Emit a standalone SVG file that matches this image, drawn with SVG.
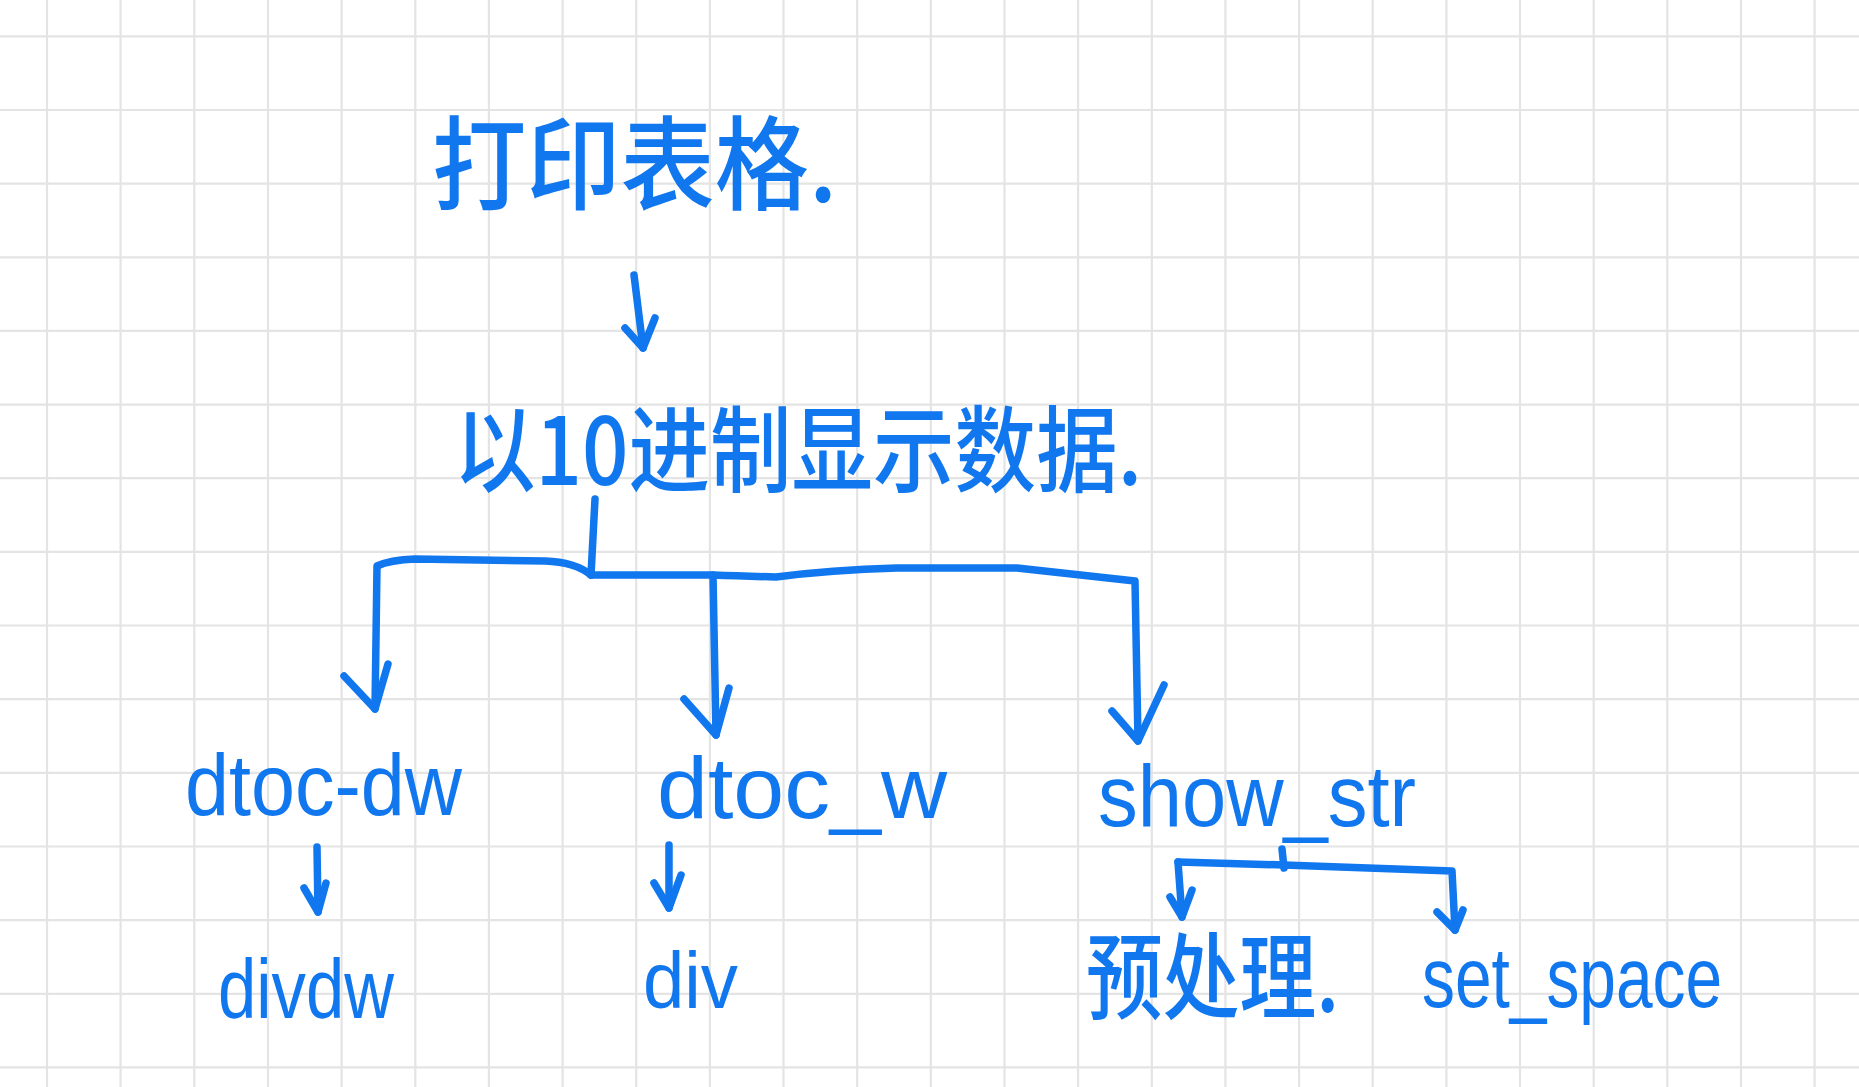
<svg xmlns="http://www.w3.org/2000/svg" width="1859" height="1087" viewBox="0 0 1859 1087">
  <style>
    .grid { stroke: #e4e4e4; stroke-width: 2.2; fill: none; }
    .ink { stroke: #1177ee; stroke-width: 7.5; fill: none; stroke-linecap: round; stroke-linejoin: round; }
    .cjk { font-family: "Noto Sans CJK SC", "Noto Sans", sans-serif; fill: #1177ee; font-weight: 500; }
    .lat { font-family: "Liberation Sans", "Noto Sans", sans-serif; fill: #1177ee; }
  </style>
  <rect width="1859" height="1087" fill="#ffffff"/>
  <g id="grid">
    <path class="grid" d="M47 0V1087M120.6 0V1087M194.3 0V1087M268 0V1087M341.6 0V1087M415.3 0V1087M488.9 0V1087M562.6 0V1087M636.2 0V1087M709.9 0V1087M783.5 0V1087M857.2 0V1087M930.8 0V1087M1004.5 0V1087M1078.1 0V1087M1151.8 0V1087M1225.4 0V1087M1299.1 0V1087M1372.7 0V1087M1446.4 0V1087M1520 0V1087M1593.7 0V1087M1667.3 0V1087M1741 0V1087M1814.6 0V1087"/>
    <path class="grid" d="M0 36.3H1859M0 110H1859M0 183.6H1859M0 257.3H1859M0 330.9H1859M0 404.6H1859M0 478.2H1859M0 551.9H1859M0 625.5H1859M0 699.2H1859M0 772.8H1859M0 846.5H1859M0 920.1H1859M0 993.8H1859M0 1067.4H1859"/>
  </g>
  <g id="node-print-table">
    <text class="cjk" x="432" y="202" font-size="102" textLength="405" lengthAdjust="spacingAndGlyphs">打印表格.</text>
  </g>
  <g id="node-show-decimal">
    <text class="cjk" x="454" y="485" font-size="94" textLength="688" lengthAdjust="spacingAndGlyphs">以10进制显示数据.</text>
  </g>
  <g id="node-dtoc-dw">
    <text class="lat" x="185" y="815" font-size="88" textLength="277" lengthAdjust="spacingAndGlyphs">dtoc-dw</text>
  </g>
  <g id="node-dtoc-w">
    <text class="lat" x="657" y="818" font-size="88" textLength="290" lengthAdjust="spacingAndGlyphs">dtoc_w</text>
  </g>
  <g id="node-show-str">
    <text class="lat" x="1098" y="826" font-size="88" textLength="318" lengthAdjust="spacingAndGlyphs">show_str</text>
  </g>
  <g id="node-divdw">
    <text class="lat" x="218" y="1018" font-size="84" textLength="176" lengthAdjust="spacingAndGlyphs">divdw</text>
  </g>
  <g id="node-div">
    <text class="lat" x="643" y="1008" font-size="80" textLength="95" lengthAdjust="spacingAndGlyphs">div</text>
  </g>
  <g id="node-preprocess">
    <text class="cjk" x="1086" y="1012" font-size="94" textLength="253" lengthAdjust="spacingAndGlyphs">预处理.</text>
  </g>
  <g id="node-set-space">
    <text class="lat" x="1422" y="1007" font-size="86" textLength="300" lengthAdjust="spacingAndGlyphs">set_space</text>
  </g>
  <g id="connectors">
    <!-- top arrow -->
    <path class="ink" d="M634 275 L643 348"/>
    <path class="ink" d="M625 328 L643 348 L655 318"/>
    <!-- main branch -->
    <path class="ink" d="M595 499 L591 575"/>
    <path class="ink" d="M591 575 Q575 562 545 561 L415 559 Q390 560 377 566 L375 709"/>
    <path class="ink" d="M344 676 L375 709 L388 664"/>
    <path class="ink" d="M591 575 L713 575 Q740 576 776 577 Q830 570 897 568 L1017 568 L1135 581 L1138 741"/>
    <path class="ink" d="M713 575 L716 735"/>
    <path class="ink" d="M684 699 L716 735 L729 688"/>
    <path class="ink" d="M1112 711 L1138 741 L1164 685"/>
    <!-- dtoc-dw to divdw -->
    <path class="ink" d="M317 847 L318 912"/>
    <path class="ink" d="M304 888 L318 912 L326 883"/>
    <!-- dtoc_w to div -->
    <path class="ink" d="M669 845 L669 908"/>
    <path class="ink" d="M654 883 L669 908 L681 875"/>
    <!-- show_str branch -->
    <path class="ink" d="M1282 849 L1284 868"/>
    <path class="ink" d="M1178 862 L1284 865 L1452 871 L1455 930"/>
    <path class="ink" d="M1178 862 L1182 917"/>
    <path class="ink" d="M1170 897 L1182 917 L1192 890"/>
    <path class="ink" d="M1437 912 L1455 930 L1463 910"/>
  </g>
</svg>
